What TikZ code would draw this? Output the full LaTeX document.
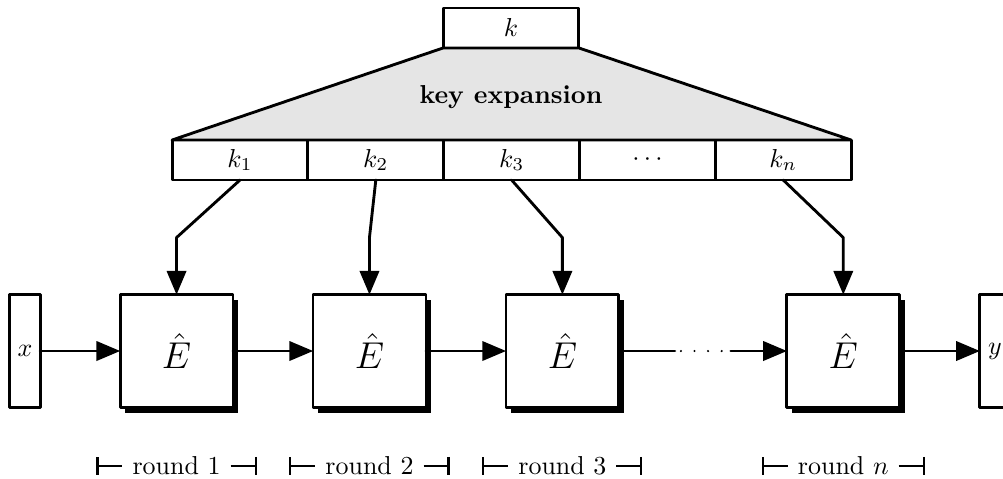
\documentclass[tikz,border=0pt]{standalone}
\usepackage{pgf,tikz}
\usetikzlibrary{arrows}
\usetikzlibrary{arrows.meta}
\usetikzlibrary{positioning}
\usetikzlibrary{shadows}

\begin{document}
\begin{tikzpicture}[line cap=round,line join=round,>=triangle 45,line width=1.1pt,
  keybox/.style={draw,minimum width=1.84cm,minimum height=0.542cm,inner sep=0pt,outer sep=0pt},
  encbox/.style={draw,fill=white,minimum width=1.53cm,minimum height=1.53cm,outer sep=0pt,font=\Large,
    drop shadow={shadow xshift=2pt,shadow yshift=-2pt,fill=black,opacity=1}},
  iobox/.style={draw,minimum width=0.41cm,minimum height=1.53cm,inner sep=0pt,outer sep=0pt},
  roundbar/.style={line width=0.8pt,line cap=butt}]
\clip(0,0) rectangle (13.59,6.477);
% key schedule
\node[keybox] (k) at (6.924,6.098) {$k$};
\node[keybox] (k1) at (3.252,4.309) {$k_1$};
\node[keybox,right=0pt of k1] (k2) {$k_2$};
\node[keybox,right=0pt of k2] (k3) {$k_3$};
\node[keybox,right=0pt of k3] (kd) {$\cdots$};
\node[keybox,right=0pt of kd] (kn) {$k_n$};
\filldraw[fill=gray!20] (k.south west) -- (k1.north west) -- (kn.north east) -- (k.south east) -- cycle;
\node (kexp) at (6.924,5.163) {\textbf{key expansion}};
% rounds
\node[encbox] (E1) at (2.392,1.721) {$\hat{E}$};
\node[encbox,right=1.084cm of E1] (E2) {$\hat{E}$};
\node[encbox,right=1.084cm of E2] (E3) {$\hat{E}$};
\node[encbox,right=2.276cm of E3] (E4) {$\hat{E}$};
\node[iobox,left=1.084cm of E1] (x) {$x$};
\node[iobox,right=1.084cm of E4] (y) {$y$};
\coordinate[right=0.759cm of E3] (d1);
\coordinate[left=0.759cm of E4] (d2);
\draw[->] (x) -- (E1);
\draw[->] (E1) -- (E2);
\draw[->] (E2) -- (E3);
\draw (E3) -- (d1);
\draw[line width=0.9pt,dash pattern=on 0pt off 0.184cm,shorten <=0.082cm,shorten >=0.12cm] (d1) -- (d2);
\draw[->] (d2) -- (E4);
\draw[->] (E4) -- (y);
\foreach \a/\b in {k1/E1,k2/E2,k3/E3,kn/E4}
  \draw[->] (\a.south) -- ([yshift=0.772cm]\b.north) -- (\b.north);
% round labels
\foreach \i/\t in {1/1,2/2,3/3,4/n}{
  \node[below=0.53cm of E\i] (r\i) {round $\t$};
  \draw[roundbar,{Bar[width=0.245cm]}-] ([xshift=-0.352cm]r\i.west) -- (r\i.west);
  \draw[roundbar,-{Bar[width=0.245cm]}] (r\i.east) -- ([xshift=0.352cm]r\i.east);
}
\end{tikzpicture}
\end{document}
